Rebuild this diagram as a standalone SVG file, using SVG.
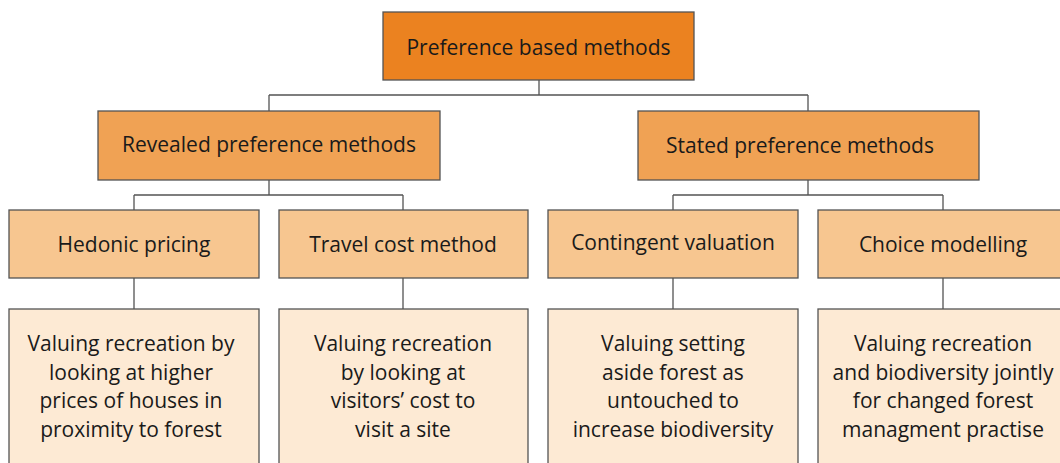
<svg xmlns="http://www.w3.org/2000/svg" width="1060" height="463" viewBox="0 0 1060 463">
  <style>
    .box { stroke: #545454; stroke-width: 1.3; }
    .l1 { fill: #EB8220; }
    .l2 { fill: #F0A254; }
    .l3 { fill: #F7C690; }
    .l4 { fill: #FDEAD4; }
    text { font-family: "Open Sans", "Noto Sans", sans-serif; font-size: 21px; fill: #1a1a1a; text-anchor: middle; font-variant-ligatures: none; }
    .links path { fill: none; stroke: #545454; stroke-width: 1.3; }
  </style>
  <rect width="1060" height="463" fill="#ffffff"/>

  <!-- tree connectors -->
  <g class="links">
    <path d="M539,80 V95 M269,95 H808 M269,95 V111 M808,95 V111"/>
    <path d="M269,180 V195 M134,195 H403 M134,195 V210 M403,195 V210"/>
    <path d="M808,180 V195 M673,195 H943 M673,195 V210 M943,195 V210"/>
    <path d="M134,278 V309 M403,278 V309 M673,278 V309 M943,278 V309"/>
  </g>

  <g id="preference-based">
    <rect class="box l1" x="383" y="12" width="311" height="68"/>
    <text x="538.5" y="55">Preference based methods</text>
  </g>

  <g id="revealed">
    <rect class="box l2" x="98" y="111" width="342" height="69"/>
    <text x="269" y="152">Revealed preference methods</text>
  </g>
  <g id="stated">
    <rect class="box l2" x="638" y="111" width="341" height="69"/>
    <text x="800" y="153">Stated preference methods</text>
  </g>

  <g id="hedonic">
    <rect class="box l3" x="9" y="210" width="250" height="68"/>
    <text x="134" y="252">Hedonic pricing</text>
  </g>
  <g id="travel-cost">
    <rect class="box l3" x="279" y="210" width="249" height="68"/>
    <text x="403" y="252">Travel cost method</text>
  </g>
  <g id="contingent">
    <rect class="box l3" x="548" y="210" width="250" height="68"/>
    <text x="673" y="250">Contingent valuation</text>
  </g>
  <g id="choice">
    <rect class="box l3" x="818" y="210" width="250" height="68"/>
    <text x="943" y="252">Choice modelling</text>
  </g>

  <g id="hedonic-desc">
    <rect class="box l4" x="9" y="309" width="250" height="170"/>
    <text x="131" y="351">Valuing recreation by</text>
    <text x="131" y="380">looking at higher</text>
    <text x="131" y="408">prices of houses in</text>
    <text x="131" y="437">proximity to forest</text>
  </g>
  <g id="travel-cost-desc">
    <rect class="box l4" x="279" y="309" width="249" height="170"/>
    <text x="403" y="351">Valuing recreation</text>
    <text x="403" y="380">by looking at</text>
    <text x="403" y="408">visitors’ cost to</text>
    <text x="403" y="437">visit a site</text>
  </g>
  <g id="contingent-desc">
    <rect class="box l4" x="548" y="309" width="250" height="170"/>
    <text x="673" y="351">Valuing setting</text>
    <text x="673" y="380">aside forest as</text>
    <text x="673" y="408">untouched to</text>
    <text x="673" y="437">increase biodiversity</text>
  </g>
  <g id="choice-desc">
    <rect class="box l4" x="818" y="309" width="250" height="170"/>
    <text x="943" y="351">Valuing recreation</text>
    <text x="943" y="380">and biodiversity jointly</text>
    <text x="943" y="408">for changed forest</text>
    <text x="943" y="437">managment practise</text>
  </g>
</svg>
